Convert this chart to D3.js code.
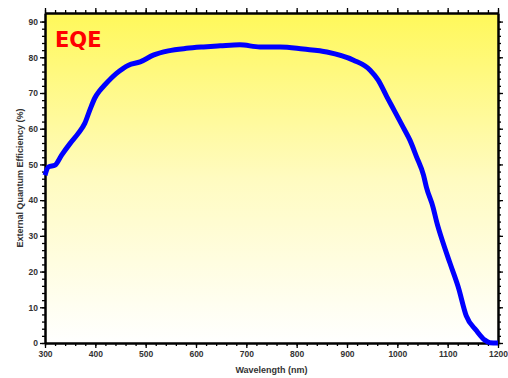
<!DOCTYPE html>
<html>
<head>
<meta charset="utf-8">
<script src="https://cdn.jsdelivr.net/npm/d3@7"></script>
<style>
  body { margin: 0; background: #fff; }
  text { font-family: "Liberation Sans", Arial, sans-serif; }
</style>
</head>
<body>
<div id="chart"></div>
<script>
// data
var wavelength = [300, 307, 320, 333, 350, 366, 379, 389, 399, 409, 419, 442, 466, 489, 515, 545, 581, 615, 648, 687,
                  727, 767, 813, 860, 913, 946, 962, 979, 995, 1012, 1025, 1038, 1052, 1058,
                  1071, 1078, 1091, 1104, 1121, 1137, 1157, 1174, 1184, 1200];
var eqe = [47, 49.3, 49.8, 52.6, 55.9, 58.7, 61.5, 65.2, 68.6, 70.7, 72.3, 75.5, 77.8, 78.7, 80.6, 81.8, 82.5, 82.9, 83.2, 83.5,
           82.9, 82.9, 82.3, 81.5, 79.2, 76.4, 73.6, 69, 64.8, 60.3, 56.8, 52.2, 47, 43.5,
           38, 34, 28, 22.6, 15.7, 7.6, 3.5, 0.8, 0.1, 0];
var xMajor = d3.range(300, 1201, 100);
var xMinor = d3.range(300, 1201, 20);
var yMajor = d3.range(0, 91, 10);
var yMinor = d3.range(0, 92, 2);

var data = wavelength.map((w, i) => ({w: w, v: eqe[i]}));

// set the dimensions
var W = 508, H = 378;
var m = {left: 45, right: 498, top: 13, bottom: 343};

var svg = d3.select("#chart")
  .append("svg")
  .attr("width", W)
  .attr("height", H);

// background gradient
var grad = svg.append("defs").append("linearGradient")
  .attr("id", "bg")
  .attr("x1", 0).attr("y1", 0).attr("x2", 0).attr("y2", 1);
grad.append("stop").attr("offset", "0%").attr("stop-color", "#fff85a");
grad.append("stop").attr("offset", "50%").attr("stop-color", "#fffbc0");
grad.append("stop").attr("offset", "100%").attr("stop-color", "#ffffff");

svg.append("rect")
  .attr("x", m.left).attr("y", m.top)
  .attr("width", m.right - m.left).attr("height", m.bottom - m.top)
  .attr("fill", "url(#bg)");

// scales
var x = d3.scaleLinear().domain([300, 1200]).range([m.left, m.right]);
var y = d3.scaleLinear().domain([0, 92.4]).range([m.bottom, m.top]);

function styleAxis(g) {
  g.select(".domain").attr("stroke", "#000").attr("stroke-width", 2);
  g.selectAll(".tick line").attr("stroke", "#000").attr("stroke-width", 1.3);
  g.selectAll(".tick text")
    .attr("fill", "#333")
    .style("font-size", "8.5px")
    .style("font-weight", "bold");
}

// minor ticks
svg.append("g").attr("transform", "translate(0," + m.bottom + ")")
  .call(d3.axisBottom(x).tickValues(xMinor).tickSize(3).tickSizeOuter(0).tickFormat(""))
  .call(styleAxis);
svg.append("g").attr("transform", "translate(0," + m.top + ")")
  .call(d3.axisTop(x).tickValues(xMinor).tickSize(3).tickSizeOuter(0).tickFormat(""))
  .call(styleAxis);
svg.append("g").attr("transform", "translate(" + m.left + ",0)")
  .call(d3.axisLeft(y).tickValues(yMinor).tickSize(3).tickSizeOuter(0).tickFormat(""))
  .call(styleAxis);
svg.append("g").attr("transform", "translate(" + m.right + ",0)")
  .call(d3.axisRight(y).tickValues(yMinor).tickSize(3).tickSizeOuter(0).tickFormat(""))
  .call(styleAxis);

// major ticks
svg.append("g").attr("transform", "translate(0," + m.bottom + ")")
  .call(d3.axisBottom(x).tickValues(xMajor).tickSize(5).tickSizeOuter(0).tickPadding(3).tickFormat(d3.format("d")))
  .call(styleAxis);
svg.append("g").attr("transform", "translate(0," + m.top + ")")
  .call(d3.axisTop(x).tickValues(xMajor).tickSize(5).tickSizeOuter(0).tickFormat(""))
  .call(styleAxis);
svg.append("g").attr("transform", "translate(" + m.left + ",0)")
  .call(d3.axisLeft(y).tickValues(yMajor).tickSize(5).tickSizeOuter(0).tickPadding(2))
  .call(styleAxis);
svg.append("g").attr("transform", "translate(" + m.right + ",0)")
  .call(d3.axisRight(y).tickValues(yMajor).tickSize(5).tickSizeOuter(0).tickFormat(""))
  .call(styleAxis);

// EQE curve
var line = d3.line()
  .x(d => x(d.w))
  .y(d => y(d.v))
  .curve(d3.curveMonotoneX);

svg.append("path")
  .datum(data)
  .attr("d", line)
  .attr("fill", "none")
  .attr("stroke", "#0000ff")
  .attr("stroke-width", 5)
  .attr("stroke-linejoin", "round");

// labels
svg.append("text")
  .attr("x", 55)
  .attr("y", 47)
  .attr("fill", "#ff0000")
  .style("font-family", "'DejaVu Sans', sans-serif")
  .style("font-size", "21px")
  .style("font-weight", "bold")
  .text("EQE");

svg.append("text")
  .attr("text-anchor", "middle")
  .attr("x", (m.left + m.right) / 2)
  .attr("y", 373)
  .attr("fill", "#333")
  .style("font-size", "9px")
  .style("font-weight", "bold")
  .text("Wavelength (nm)");

svg.append("text")
  .attr("text-anchor", "middle")
  .attr("transform", "rotate(-90)")
  .attr("x", -(m.top + m.bottom) / 2)
  .attr("y", 23)
  .attr("fill", "#333")
  .style("font-size", "9px")
  .style("font-weight", "bold")
  .text("External Quantum Efficiency (%)");
</script>
</body>
</html>
